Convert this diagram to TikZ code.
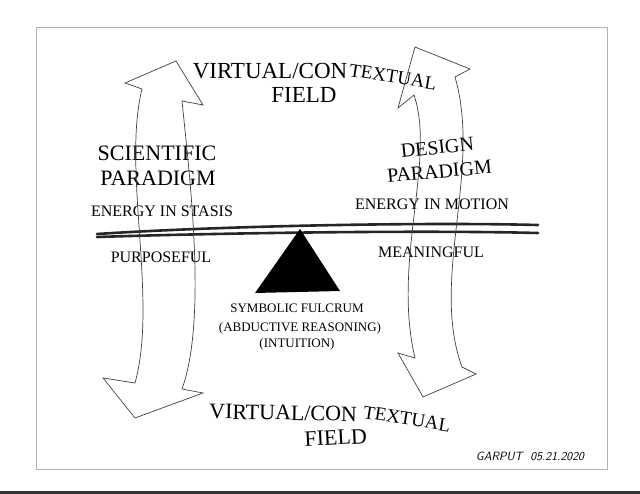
\documentclass[tikz,border=0pt]{standalone}
\usepackage{fontspec}
\setmainfont{Liberation Serif}
\newcommand{\fs}[1]{\fontsize{#1}{#1}\selectfont}
\tikzset{
    sketch/.style={line width=0.7pt, draw=black!75},
    bar/.style={line width=2.6pt, draw=black!85, line cap=round},
    lbl/.style={inner sep=0pt, anchor=base},
}
\begin{document}
\begin{tikzpicture}[x=1pt, y=-1pt]
    \useasboundingbox (0,0) rectangle (640,494);
    % scanned page frame
    \draw[line width=0.8pt, black!30] (36,27) rectangle (607,469);
    \fill[black!80] (0,491) rectangle (640,494);
    % fields
    \node[lbl, font=\fs{23}] (vtop) at (270,79) {VIRTUAL/CON};
    \node[lbl, font=\fs{19}, rotate=-9] (vtopb) at (392,83) {TEXTUAL};
    \node[lbl, font=\fs{23}] (ftop) at (304,103) {FIELD};
    \node[lbl, font=\fs{22}, rotate=-1] (vbot) at (283,420) {VIRTUAL/CON};
    \node[lbl, font=\fs{19}, rotate=-9] (vbotb) at (406,425) {TEXTUAL};
    \node[lbl, font=\fs{22}, rotate=3] (fbot) at (336,445) {FIELD};
    % paradigms
    \node[lbl, font=\fs{22}] (sci) at (157,161) {SCIENTIFIC};
    \node[lbl, font=\fs{22}] (scipar) at (158,186) {PARADIGM};
    \node[lbl, font=\fs{16}] (stasis) at (162,217) {ENERGY IN STASIS};
    \node[lbl, font=\fs{20}, rotate=6] (des) at (438,154) {DESIGN};
    \node[lbl, font=\fs{20}, rotate=5] (despar) at (440,178) {PARADIGM};
    \node[lbl, font=\fs{16}] (motion) at (432,210) {ENERGY IN MOTION};
    \node[lbl, font=\fs{16}] (purp) at (161,263) {PURPOSEFUL};
    \node[lbl, font=\fs{16}] (mean) at (431,258) {MEANINGFUL};
    % lever
    \draw[bar] (97,234) .. controls (220,226) and (420,222) .. (538,225);
    \draw[bar] (97,237) .. controls (220,233) and (420,230) .. (538,233);
    \fill[black] (300,229) -- (340,291) -- (255,293) -- cycle;
    \node[lbl, font=\fs{13}] (symb) at (297,313) {SYMBOLIC FULCRUM};
    \node[lbl, font=\fs{13}] (abd) at (300,331) {(ABDUCTIVE REASONING)};
    \node[lbl, font=\fs{13}] (intu) at (297,348) {(INTUITION)};
    % double arrows
    \draw[sketch] (142,89) -- (125,83) -- (176,61) -- (203,105) -- (182,101)
        .. controls (190,180) and (207,320) .. (182,389)
        -- (203,393) -- (135,418) -- (103,378) -- (135,383)
        .. controls (158,300) and (122,170) .. cycle;
    \draw[sketch] (414,95) -- (398,108) -- (415,47) -- (470,69) -- (455,77)
        .. controls (482,170) and (430,280) .. (462,367)
        -- (476,374) -- (423,397) -- (398,353) -- (415,358)
        .. controls (392,262) and (436,160) .. cycle;
    % signature
    \node[lbl, font=\fs{12}\itshape\sffamily] (sign) at (530,460) {GARPUT\ \ 05.21.2020};
\end{tikzpicture}
\end{document}
